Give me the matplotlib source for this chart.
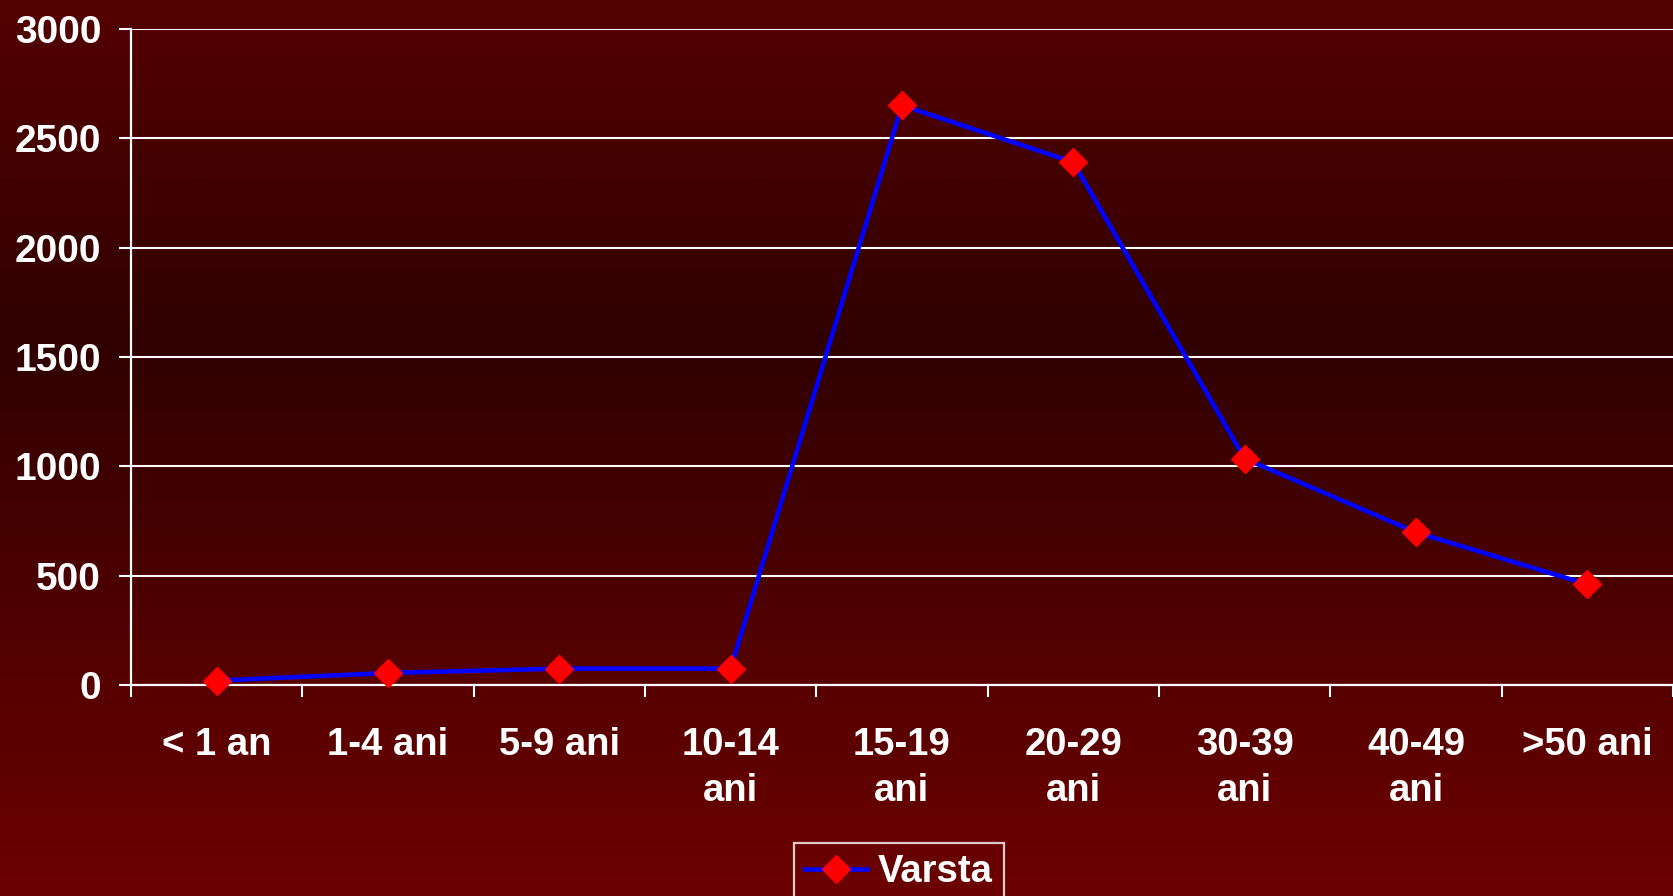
import numpy as np
import matplotlib
matplotlib.use("Agg")
import matplotlib.pyplot as plt
from matplotlib.lines import Line2D
from matplotlib.colors import LinearSegmentedColormap

# ---- data ----
categories = ["< 1 an", "1-4 ani", "5-9 ani", "10-14\nani", "15-19\nani",
              "20-29\nani", "30-39\nani", "40-49\nani", ">50 ani"]
values = [20, 55, 75, 75, 2650, 2390, 1035, 698, 460]
series_name = "Varsta"
y_ticks = [0, 500, 1000, 1500, 2000, 2500, 3000]

W, H = 1673, 896
DPI = 100
FONT = "Liberation Sans"
FS = 27.5
FS_Y = 28
LW = 3.3
MS = 14

fig = plt.figure(figsize=(W / DPI, H / DPI), dpi=DPI)
fig.patch.set_facecolor("#4a0000")

# background gradient (vertical)
bg = fig.add_axes([0, 0, 1, 1], zorder=-10)
stops = [(0.0, "#540000"), (0.12, "#4a0000"), (0.38, "#300000"),
         (0.765, "#570000"), (1.0, "#6c0000")]
cmap = LinearSegmentedColormap.from_list("bg", stops)
grad = np.linspace(0, 1, 512).reshape(-1, 1)
bg.imshow(grad, aspect="auto", cmap=cmap, extent=[0, 1, 1, 0])
bg.set_xlim(0, 1)
bg.set_ylim(1, 0)
bg.axis("off")

left = 131 / W
bottom = 1 - 685 / H
top = 1 - 28.8 / H
ax = fig.add_axes([left, bottom, 1 - left, top - bottom])
ax.set_facecolor("none")

x = np.arange(len(categories))
ax.plot(x, values, color="#0000ff", lw=LW, marker="D", ms=MS,
        markerfacecolor="#ff0000", markeredgecolor="#ff0000", zorder=5,
        clip_on=False)

ax.set_xlim(-0.5, len(categories) - 0.5)
ax.set_ylim(0, 3000)
ax.set_yticks(y_ticks)
ax.set_yticklabels([str(v) for v in y_ticks])
ax.yaxis.grid(True, color="white", lw=1.5)
ax.set_axisbelow(True)

ax.set_xticks(x)
ax.set_xticklabels(categories)
ax.set_xticks(np.arange(-0.5, len(categories)), minor=True)
ax.tick_params(axis="x", which="major", length=0, pad=30)
ax.tick_params(axis="x", which="minor", length=8.5, width=1.5,
               color="white", direction="out")
ax.tick_params(axis="y", length=8.5, width=1.5, color="white",
               direction="out", pad=13)

for lab in ax.get_xticklabels():
    lab.set_fontfamily(FONT)
    lab.set_fontweight("bold")
    lab.set_fontsize(FS)
    lab.set_color("white")
    lab.set_linespacing(1.36)
for lab in ax.get_yticklabels():
    lab.set_fontfamily(FONT)
    lab.set_fontweight("bold")
    lab.set_fontsize(FS_Y)
    lab.set_color("white")

for s in ["top", "right"]:
    ax.spines[s].set_visible(False)
for s in ["left", "bottom"]:
    ax.spines[s].set_color("white")
    ax.spines[s].set_linewidth(1.6)

handle = Line2D([], [], color="#0000ff", lw=LW, marker="D", ms=MS,
                markerfacecolor="#ff0000", markeredgecolor="#ff0000")
leg = fig.legend([handle], [series_name], loc="upper left",
                 bbox_to_anchor=(794 / W, 1 - 843 / H),
                 bbox_transform=fig.transFigure, borderaxespad=0,
                 frameon=True, fancybox=False, handlelength=1.6,
                 handletextpad=0.3, borderpad=0.3,
                 prop={"family": FONT, "weight": "bold", "size": FS})
leg.get_frame().set_facecolor("none")
leg.get_frame().set_edgecolor("white")
leg.get_frame().set_linewidth(1.6)
for t in leg.get_texts():
    t.set_color("white")

fig.savefig("out.png", dpi=DPI, facecolor=fig.get_facecolor())
